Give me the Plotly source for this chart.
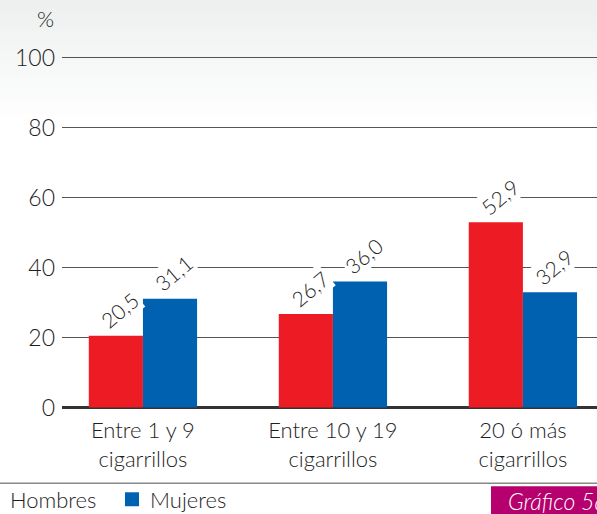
import plotly.graph_objects as go

categories = ["Entre 1 y 9<br>cigarrillos", "Entre 10 y 19<br>cigarrillos", "20 ó más<br>cigarrillos"]
hombres = [20.5, 26.7, 52.9]
mujeres = [31.1, 36.0, 32.9]
y_ticks = [0, 20, 40, 60, 80, 100]

RED = "#ed1c24"
BLUE = "#0061b0"
FONT = "Lato"
TXT = "#1e1e1e"
W = 300

fig = go.Figure()
fig.add_trace(go.Bar(x=list(range(3)), y=hombres, name="Hombres", marker_color=RED, marker_line_width=0))
fig.add_trace(go.Bar(x=list(range(3)), y=mujeres, name="Mujeres", marker_color=BLUE, marker_line_width=0))

def fmt(v):
    return f"{v:.1f}".replace(".", ",")

layout_h = 514
plot_top = 53.5
plot_bottom = 411.5
plot_h = plot_bottom - plot_top
plot_l = 62
plot_w = 597 - plot_l

def py(pix):
    return (plot_bottom - pix) / plot_h

def px(pix):
    return (pix - plot_l) / plot_w

annotations = []
for i, (h, m) in enumerate(zip(hombres, mujeres)):
    for val, off in ((h, -0.142), (m, 0.142)):
        annotations.append(dict(
            x=i + off, y=val, xref="x", yref="y", text=fmt(val), showarrow=False,
            textangle=-40, xanchor="center", yanchor="middle", xshift=4, yshift=26,
            font=dict(family=FONT, size=21, color=TXT, weight=W), bgcolor="white", borderpad=1))

annotations.append(dict(x=px(45), y=py(18), xref="paper", yref="paper", text="%", showarrow=False,
                        xanchor="center", yanchor="middle", font=dict(family=FONT, size=22, color=TXT, weight=W)))

shapes = []
# background gradient strips (top)
n = 24
for k in range(n):
    t = k / n
    c = int(238 + (255 - 238) * t)
    c2 = int(240 + (255 - 240) * t)
    shapes.append(dict(type="rect", xref="paper", yref="paper", layer="below",
                       x0=-0.2, x1=1.2, y0=py(k * 5 + 5), y1=py(k * 5 - 1 if k else -5),
                       fillcolor=f"rgb({c},{c2},{c2})", line_width=0))

# separator line above legend
shapes.append(dict(type="line", xref="paper", yref="paper", x0=-0.2, x1=1.2, y0=py(484), y1=py(484),
                   line=dict(color="#888888", width=1.5)))
# legend blue square
shapes.append(dict(type="rect", xref="paper", yref="paper", x0=px(125), x1=px(139),
                   y0=py(507), y1=py(493), fillcolor=BLUE, line_width=0))
# magenta box
shapes.append(dict(type="rect", xref="paper", yref="paper", x0=px(491), x1=1.2,
                   y0=py(520), y1=py(487), fillcolor="#b5006e", line_width=0))

annotations.append(dict(x=px(8), y=py(500), xref="paper", yref="paper", text="Hombres",
                        showarrow=False, xanchor="left", yanchor="middle",
                        font=dict(family=FONT, size=22, color=TXT, weight=W)))
annotations.append(dict(x=px(148), y=py(500), xref="paper", yref="paper", text="Mujeres",
                        showarrow=False, xanchor="left", yanchor="middle",
                        font=dict(family=FONT, size=22, color=TXT, weight=W)))
annotations.append(dict(x=px(506), y=py(502), xref="paper", yref="paper", text="<i>Gráfico 5a</i>",
                        showarrow=False, xanchor="left", yanchor="middle",
                        font=dict(family=FONT, size=23, color="white", weight=W)))

fig.update_layout(
    width=597, height=514,
    margin=dict(l=plot_l, r=0, t=plot_top, b=layout_h - plot_bottom, autoexpand=False),
    paper_bgcolor="white", plot_bgcolor="rgba(0,0,0,0)",
    barmode="group", bargap=0.43, bargroupgap=0,
    showlegend=False,
    font=dict(family=FONT, color=TXT, weight=W),
    xaxis=dict(range=[-0.426, 2.39], tickmode="array", tickvals=list(range(3)), ticktext=categories,
               showgrid=False, showline=False, zeroline=False, ticks="", ticklabelstandoff=4,
               tickfont=dict(family=FONT, size=22, color=TXT, weight=W)),
    yaxis=dict(range=[-1, 101], tickmode="array", tickvals=y_ticks, ticktext=[str(v) for v in y_ticks],
               showgrid=True, gridcolor="#555555", gridwidth=1,
               zeroline=True, zerolinecolor="#333333", zerolinewidth=3,
               showline=False, ticks="", ticklabelstandoff=6,
               tickfont=dict(family=FONT, size=23, color=TXT, weight=W)),
    annotations=annotations, shapes=shapes,
)

fig.write_html("out.html", config={"displayModeBar": False},
               post_script="document.body.style.margin='0';document.body.style.padding='0';")
